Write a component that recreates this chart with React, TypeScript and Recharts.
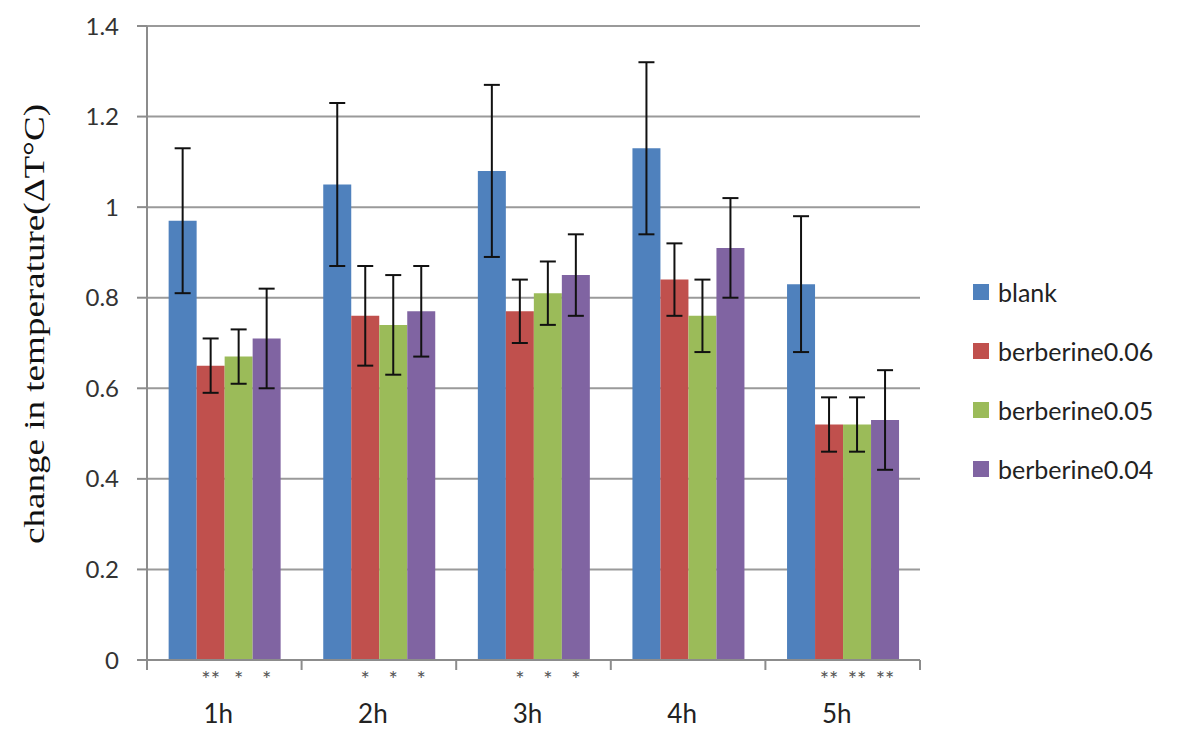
import { BarChart, Bar, XAxis, YAxis, CartesianGrid, Legend, ErrorBar, LabelList } from 'recharts'

const CATEGORIES = ['1h', '2h', '3h', '4h', '5h']
const SERIES_NAMES = ['blank', 'berberine0.06', 'berberine0.05', 'berberine0.04']
const COLORS = ['#4F81BD', '#C0504D', '#9BBB59', '#8064A2']

const BLANK = [0.97, 1.05, 1.08, 1.13, 0.83]
const BLANK_ERR = [0.16, 0.18, 0.19, 0.19, 0.15]
const B06 = [0.65, 0.76, 0.77, 0.84, 0.52]
const B06_ERR = [0.06, 0.11, 0.07, 0.08, 0.06]
const B05 = [0.67, 0.74, 0.81, 0.76, 0.52]
const B05_ERR = [0.06, 0.11, 0.07, 0.08, 0.06]
const B04 = [0.71, 0.77, 0.85, 0.91, 0.53]
const B04_ERR = [0.11, 0.1, 0.09, 0.11, 0.11]

// significance marks printed under the treated bars
const SIG06 = ['**', '*', '*', '', '**']
const SIG05 = ['*', '*', '*', '', '**']
const SIG04 = ['*', '*', '*', '', '**']

const Y_TICKS = [0, 0.2, 0.4, 0.6, 0.8, 1, 1.2, 1.4]

const VALUES = [BLANK, B06, B05, B04]
const ERRORS = [BLANK_ERR, B06_ERR, B05_ERR, B04_ERR]
const SIGS = [null, SIG06, SIG05, SIG04]

const data = CATEGORIES.map((c, i) => {
  const row: Record<string, string | number> = { cat: c }
  VALUES.forEach((v, k) => {
    row[`s${k}`] = v[i]
    row[`e${k}`] = ERRORS[k][i]
    const sig = SIGS[k]
    if (sig) row[`g${k}`] = sig[i]
  })
  return row
})

const SANS = 'Lato, "Open Sans", sans-serif'

function fmtY(v: number) {
  return v === 0 || v === 1 ? String(v) : v.toFixed(1)
}

function XTick(props: any) {
  const { x, y, payload, index } = props
  const half = payload.offset || 0
  return (
    <g>
      <line x1={x - half} y1={y} x2={x - half} y2={y + 10} stroke="#8c8c8c" strokeWidth={2} />
      {index === CATEGORIES.length - 1 && (
        <line x1={x + half} y1={y} x2={x + half} y2={y + 10} stroke="#8c8c8c" strokeWidth={2} />
      )}
      <text x={x - 6} y={y + 63} textAnchor="middle" fontSize={26} fill="#222" fontFamily={SANS}>
        {payload.value}
      </text>
    </g>
  )
}

function SigLabel(props: any) {
  const { x, y, width, height, value } = props
  if (!value) return null
  return (
    <text
      x={x + width / 2}
      y={y + height + 27}
      textAnchor="middle"
      fontSize={22}
      fill="#555"
      fontFamily={SANS}
    >
      {value}
    </text>
  )
}

function YTitle(props: any) {
  const vb = props.viewBox || {}
  const cx = 33
  const cy = vb.y + vb.height / 2 - 19
  return (
    <text
      x={cx}
      y={cy}
      transform={`rotate(-90, ${cx}, ${cy})`}
      textAnchor="middle"
      dominantBaseline="central"
      fontSize={30}
      fill="#111"
      fontFamily={'"Liberation Serif", serif'}
      textLength={440}
      lengthAdjust="spacingAndGlyphs"
    >
      change in temperature(ΔT°C)
    </text>
  )
}

function LegendBox(props: any) {
  const items = [...(props.payload || [])].sort(
    (a: any, b: any) => SERIES_NAMES.indexOf(a.value) - SERIES_NAMES.indexOf(b.value),
  )
  return (
    <div style={{ paddingLeft: 53, fontFamily: SANS }}>
      {items.map((e: any) => (
        <div key={e.value} style={{ display: 'flex', alignItems: 'center', height: 59, whiteSpace: 'nowrap' }}>
          <span style={{ flexShrink: 0, width: 16, height: 16, background: e.color, marginRight: 9 }} />
          <span style={{ fontSize: 25, color: '#222' }}>{e.value}</span>
        </div>
      ))}
    </div>
  )
}

export default function App() {
  return (
    <div style={{ position: 'absolute', left: 0, top: 0, width: 1200, height: 732, background: '#fff' }}>
      <BarChart
        width={1200}
        height={732}
        data={data}
        margin={{ top: 26, right: 40, bottom: 0, left: 0 }}
        barCategoryGap="14%"
        barGap={0}
      >
        <CartesianGrid vertical={false} stroke="#9a9a9a" strokeWidth={2} />
        <XAxis
          dataKey="cat"
          height={72}
          tickLine={false}
          tickSize={0}
          tickMargin={0}
          axisLine={{ stroke: '#8c8c8c', strokeWidth: 2 }}
          tick={<XTick />}
          interval={0}
        />
        <YAxis
          domain={[0, 1.4]}
          ticks={Y_TICKS}
          tickFormatter={fmtY}
          width={147}
          tickSize={10}
          tickMargin={18}
          tickLine={{ stroke: '#8c8c8c', strokeWidth: 2 }}
          axisLine={{ stroke: '#8c8c8c', strokeWidth: 2 }}
          tick={{ fontSize: 24, fill: '#333', fontFamily: SANS }}
          label={<YTitle />}
        />
        <Legend
          layout="vertical"
          align="right"
          verticalAlign="top"
          width={240}
          wrapperStyle={{ top: 262 }}
          content={<LegendBox />}
        />
        {SERIES_NAMES.map((name, k) => (
          <Bar key={name} dataKey={`s${k}`} name={name} fill={COLORS[k]} isAnimationActive={false}>
            <ErrorBar dataKey={`e${k}`} width={8} strokeWidth={2} stroke="#111" direction="y" />
            {k > 0 && <LabelList dataKey={`g${k}`} content={<SigLabel />} />}
          </Bar>
        ))}
      </BarChart>
    </div>
  )
}
